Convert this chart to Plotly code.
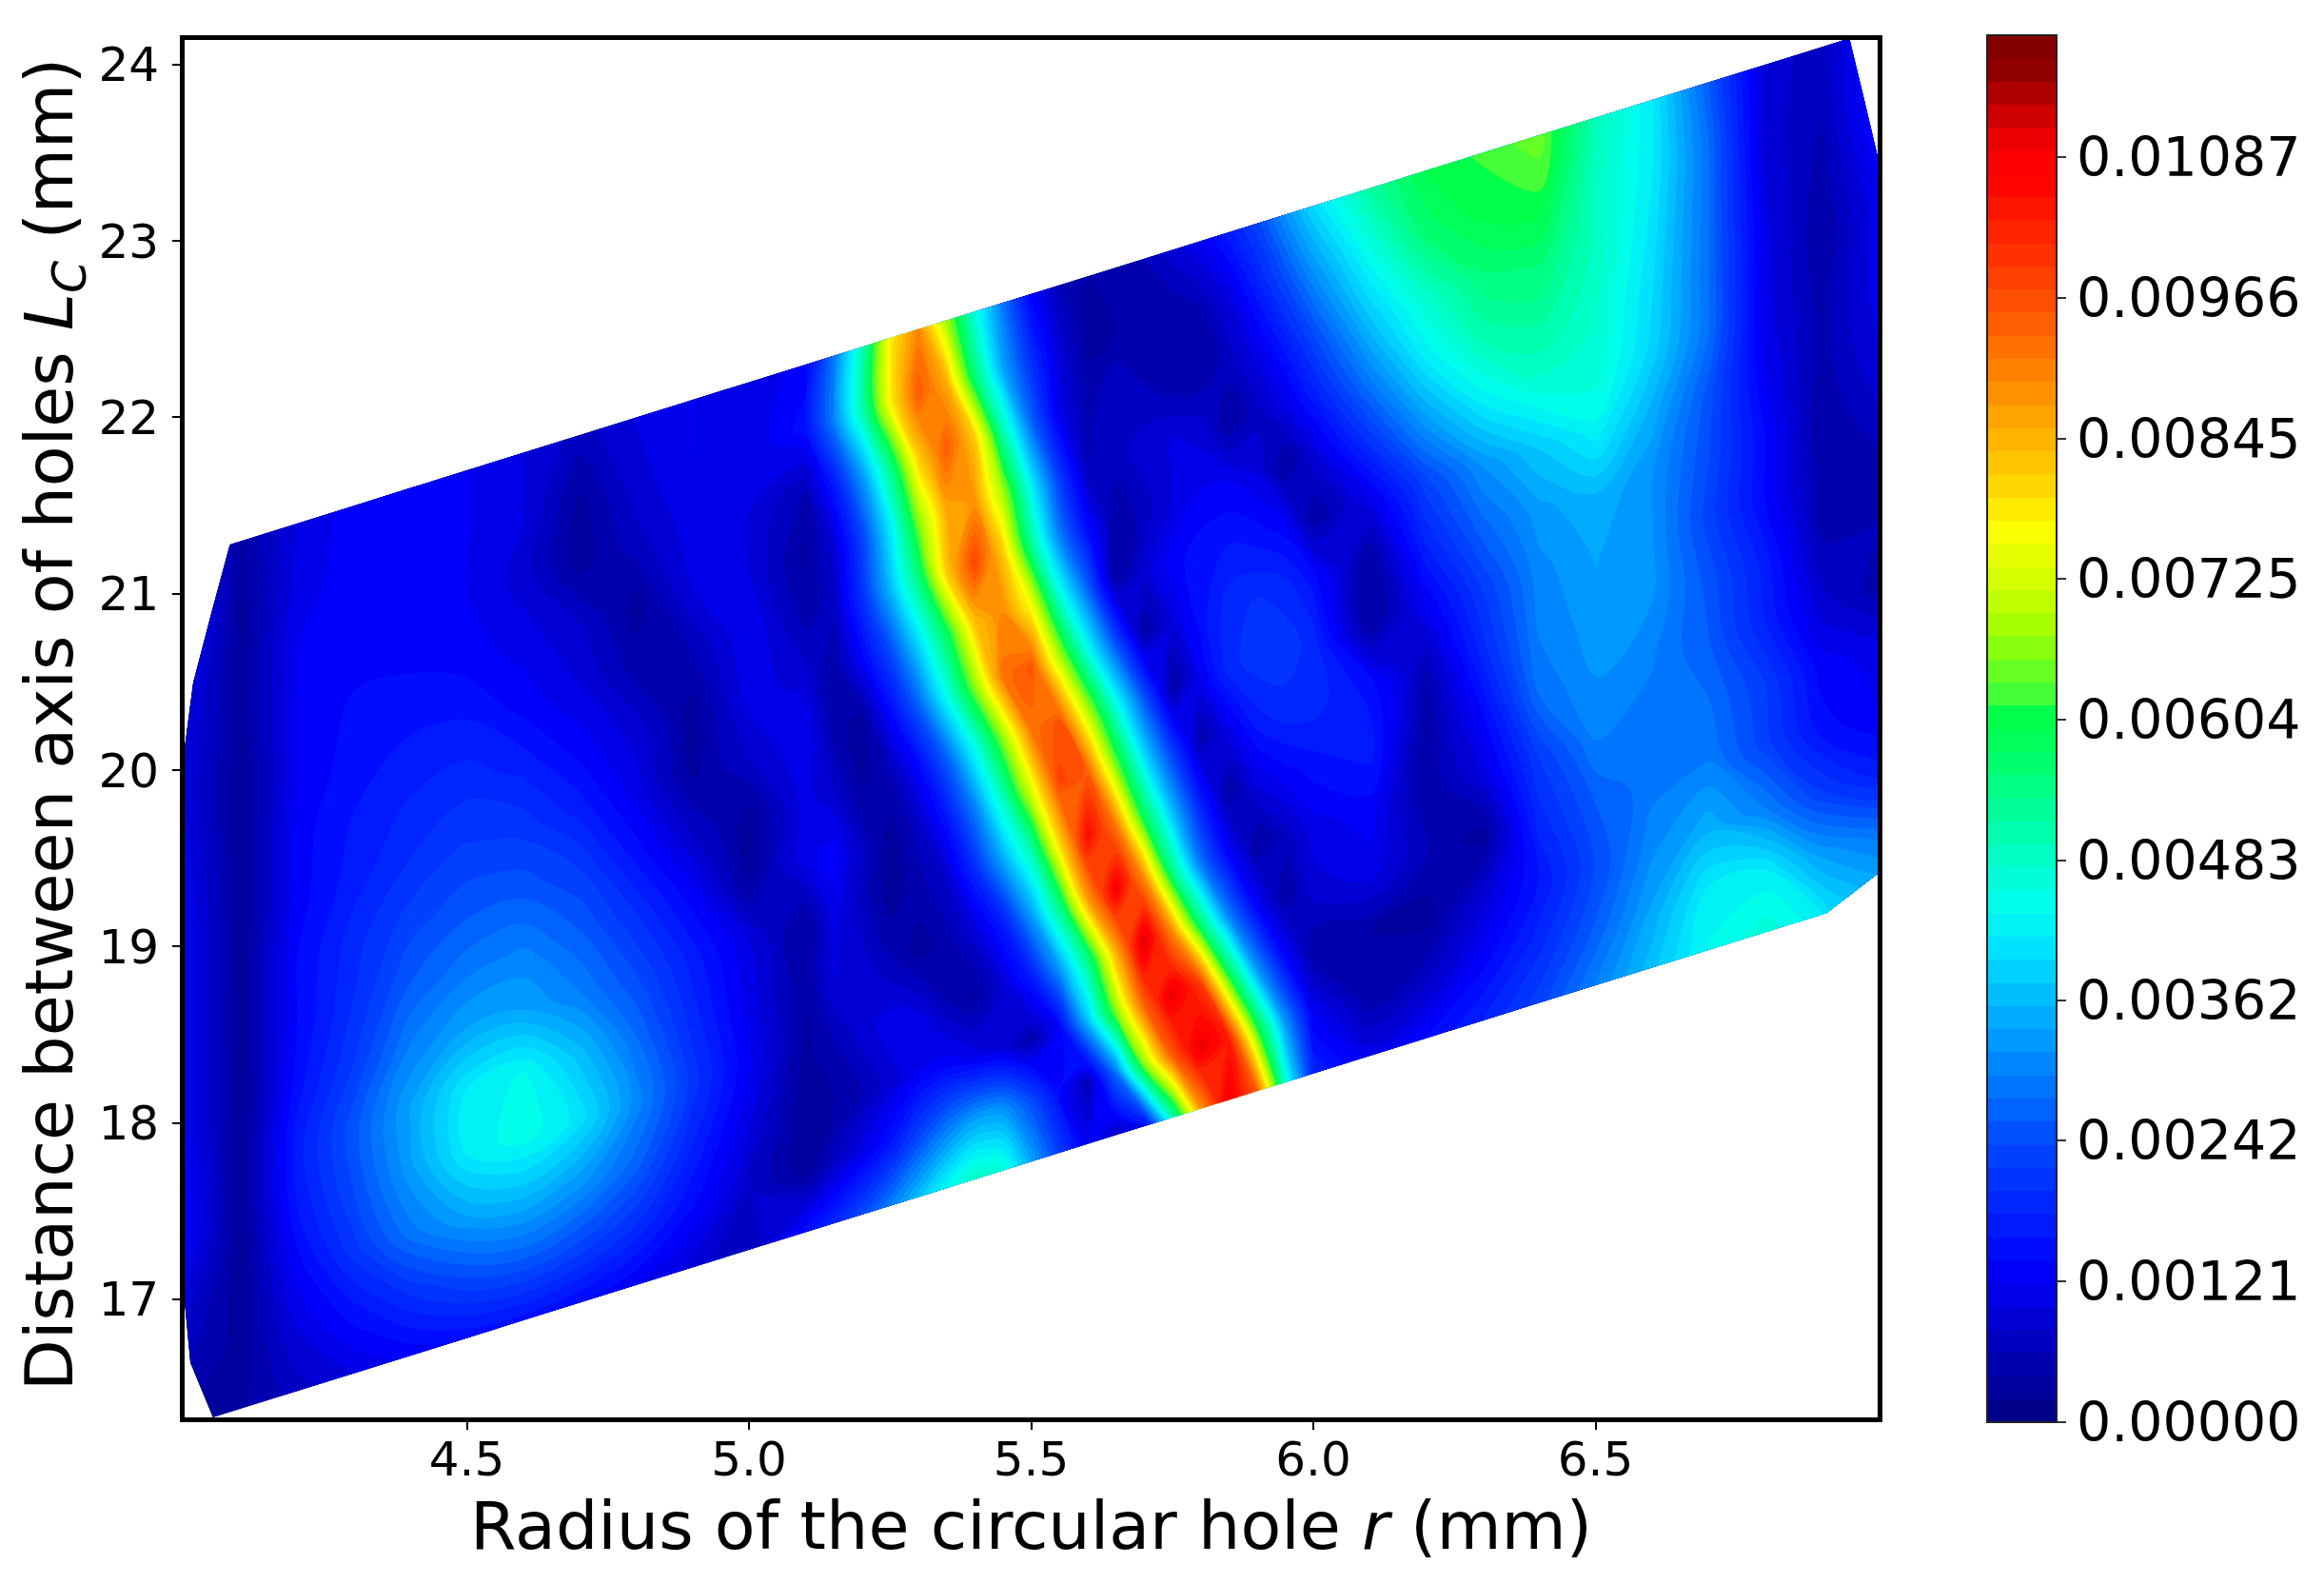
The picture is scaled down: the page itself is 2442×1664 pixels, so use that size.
import plotly.graph_objects as go

# Column positions (radius r, mm); first/last column take the per-row edges below
r_cols = [4.0, 4.1, 4.2, 4.3, 4.4, 4.5, 4.6, 4.7, 4.8, 4.9, 5.0, 5.1,
          5.15, 5.2, 5.25, 5.3, 5.35, 5.4, 5.45, 5.5, 5.55, 5.6, 5.65, 5.7, 5.75, 5.8, 5.85, 5.9, 5.95, 6.0,
          6.1, 6.2, 6.3, 6.4, 6.5, 6.6, 6.7, 6.8, 6.9, 7.0]
# Rows: offset d = L_C - r of each sheared row, with the domain's edge radius on each side
d_rows = [12.28, 12.63, 12.98, 13.33, 13.68, 14.03, 14.38, 14.73, 15.08, 15.43, 15.78, 16.13, 16.48, 16.83, 17.2]
r_left = [4.05, 4.01, 4.0, 4.0, 4.0, 4.0, 4.0, 4.0, 4.0, 4.0, 4.0, 4.0, 4.015, 4.046, 4.08]
r_right = [6.91, 7.15, 7.0, 7.0, 7.0, 7.0, 7.0, 7.0, 7.0, 7.0, 7.0, 7.0, 7.0, 6.976, 6.95]

# Values, in units of 1e-5
z00 = [20,35,70,100,125,145,150,140,120,90,60,150, 190,240,300,370,440,490,470,340,220,120,70,120,500,880,1100,950,470,180, 110,140,180,230,300,370,440,470,420,400]
z01 = [60,30,100,150,200,240,260,240,200,140,80,30, 70,110,160,230,290,330,320,240,140,60,280,660,950,1110,1030,620,320,120, 40,70,130,190,260,340,420,420,330,230]
z02 = [90,25,130,210,290,340,360,330,270,180,100,25, 40,60,90,120,130,110,90,50,130,370,660,950,1110,1000,610,320,140,40, 40,30,90,160,240,310,350,300,220,170]
z03 = [130,25,160,240,330,420,450,410,310,210,120,35, 60,90,110,100,60,35,90,170,330,550,860,1120,900,560,300,130,40,90, 110,60,30,190,260,290,300,230,150,120]
z04 = [130,25,170,250,340,420,440,370,280,190,110,40, 100,90,60,30,50,90,170,330,550,880,1090,900,540,290,130,40,70,110, 130,40,100,220,300,290,280,220,130,110]
z05 = [120,25,150,220,300,340,340,300,240,170,100,35, 110,70,30,50,80,190,340,500,800,1060,920,590,360,170,40,100,130,150, 170,40,140,280,320,300,260,180,90,50]
z06 = [120,25,140,200,260,290,300,260,200,130,35,110, 130,70,30,70,160,300,490,730,980,950,650,400,210,50,110,170,190,190, 150,60,190,300,330,320,250,170,60,60]
z07 = [120,25,140,190,230,250,250,220,150,80,30,110, 80,35,60,140,270,450,670,920,960,700,450,240,40,120,190,210,210,190, 35,120,220,310,340,320,230,140,50,50]
z08 = [120,25,130,170,200,220,210,170,110,35,80,120, 50,30,140,270,450,670,920,960,700,450,240,40,100,150,190,200,190,150, 35,180,270,330,360,320,240,140,40,80]
z09 = [110,25,130,160,180,190,170,130,90,30,110,90, 40,130,240,400,590,830,900,760,470,270,40,90,130,150,160,150,130,40, 110,230,320,380,430,350,250,120,50,100]
z10 = [100,25,120,150,160,160,130,100,50,60,120,50, 70,200,360,550,820,980,820,530,300,140,40,70,100,120,120,100,35,90, 210,330,420,470,470,390,280,110,50,110]
z11 = [100,30,120,140,140,130,110,80,30,100,100,35, 90,230,420,670,860,880,680,420,210,60,70,90,100,90,40,70,110,170, 300,420,500,520,480,400,280,110,40,110]
z12 = [100,30,120,130,130,120,90,30,70,110,100,60, 170,330,550,820,950,820,500,270,110,50,80,60,40,40,70,110,170,240, 380,480,550,560,490,410,280,100,50,130]
z13 = [90,30,110,130,130,120,100,35,90,120,100,150, 300,500,770,950,860,560,340,200,90,35,40,50,40,60,100,170,240,320, 450,560,600,610,490,420,280,90,60,130]
z14 = [60,40,100,130,130,120,100,70,100,120,100,130, 290,500,780,900,680,460,290,130,60,40,50,60,90,120,170,230,320,400, 520,600,620,650,500,420,260,90,70,110]
z_rows = [z00, z01, z02, z03, z04, z05, z06, z07, z08, z09, z10, z11, z12, z13, z14]

# Colour scale: fraction of the range and colour
cs_pos = [0, 0.113, 0.125, 0.203, 0.304, 0.35, 0.38, 0.405, 0.507, 0.525, 0.53, 0.58, 0.608, 0.655, 0.68, 0.71, 0.81, 0.912, 0.93, 1]
cs_col = ["rgb(0,0,127)", "rgb(0,0,255)", "rgb(0,10,255)", "rgb(0,70,255)", "rgb(0,180,255)", "rgb(0,230,255)",
          "rgb(0,255,235)", "rgb(0,255,210)", "rgb(0,255,80)", "rgb(0,255,70)", "rgb(60,255,60)", "rgb(160,255,0)",
          "rgb(200,255,0)", "rgb(255,255,0)", "rgb(255,220,0)", "rgb(255,190,0)", "rgb(255,90,0)", "rgb(255,0,0)",
          "rgb(255,0,0)", "rgb(130,0,0)"]
z_max = 0.01192
n_bands = 60
cbar_ticks = [0, 0.00121, 0.00242, 0.00362, 0.00483, 0.00604, 0.00725, 0.00845, 0.00966, 0.01087]
cbar_text = ["0.00000", "0.00121", "0.00242", "0.00362", "0.00483", "0.00604", "0.00725", "0.00845", "0.00966", "0.01087"]
x_ticks = [4.5, 5.0, 5.5, 6.0, 6.5]
y_ticks = [17, 18, 19, 20, 21, 22, 23, 24]
x_title = "Radius of the circular hole <i>r</i> (mm)"
y_title = "Distance between axis of holes <i>L<sub>C</sub></i> (mm)"

FONT = "DejaVu Sans"

x_grid, y_grid = [], []
for j, d in enumerate(d_rows):
    row = list(r_cols)
    row[0], row[-1] = r_left[j], r_right[j]
    x_grid.append(row)
    y_grid.append([r + d for r in row])
z_grid = [[v * 1e-5 for v in row] for row in z_rows]
a_idx = list(range(len(r_cols)))
b_idx = list(range(len(d_rows)))

hidden = dict(showgrid=False, minorgridcount=0, startline=False, endline=False,
              showticklabels="none", smoothing=0, tickmode="linear", linewidth=0)

fig = go.Figure()
fig.add_trace(go.Carpet(a=a_idx, b=b_idx, x=x_grid, y=y_grid, carpet="c", aaxis=hidden, baxis=hidden))
fig.add_trace(go.Contourcarpet(
    a=a_idx, b=b_idx, z=z_grid, carpet="c",
    autocontour=False,
    contours=dict(start=0, end=z_max, size=z_max / n_bands, coloring="fill", showlines=False),
    line=dict(width=0),
    zmin=0, zmax=z_max, zauto=False,
    colorscale=[[p, c] for p, c in zip(cs_pos, cs_col)],
    colorbar=dict(
        x=(2080 - 186) / 1779, xanchor="left", y=1.0035, yanchor="top",
        lenmode="fraction", len=1.007, thicknessmode="pixels", thickness=73, xpad=0, ypad=0,
        tickmode="array", tickvals=cbar_ticks, ticktext=cbar_text,
        ticks="outside", ticklen=9, tickwidth=2, tickcolor="#333333",
        tickfont=dict(family=FONT, size=57, color="black"),
        outlinecolor="#222222", outlinewidth=2,
    ),
))
axis_common = dict(showgrid=False, zeroline=False, showline=True, linecolor="black", linewidth=5, mirror=True,
                   ticks="outside", ticklen=8, tickwidth=2, tickcolor="black",
                   tickfont=dict(family=FONT, size=50, color="black"))
fig.update_layout(
    width=2442, height=1664, autosize=False,
    paper_bgcolor="white", plot_bgcolor="white",
    margin=dict(l=186, r=477, t=34, b=183, pad=0),
    showlegend=False,
    xaxis=dict(range=[4.0, 7.0], tickmode="array", tickvals=x_ticks, ticktext=[f"{v:.1f}" for v in x_ticks],
               ticklabelstandoff=-12,
               title=dict(text=x_title, font=dict(family=FONT, size=70, color="black"), standoff=0), **axis_common),
    yaxis=dict(range=[16.33, 24.14], tickmode="array", tickvals=y_ticks, ticktext=[str(v) for v in y_ticks],
               ticklabelstandoff=4, **axis_common),
    annotations=[dict(text=y_title, xref="paper", yref="paper", x=-0.0771, y=0.503, xanchor="center", yanchor="middle",
                      textangle=-90, showarrow=False, font=dict(family=FONT, size=70, color="black"))],
)
fig.write_html("out.html")
